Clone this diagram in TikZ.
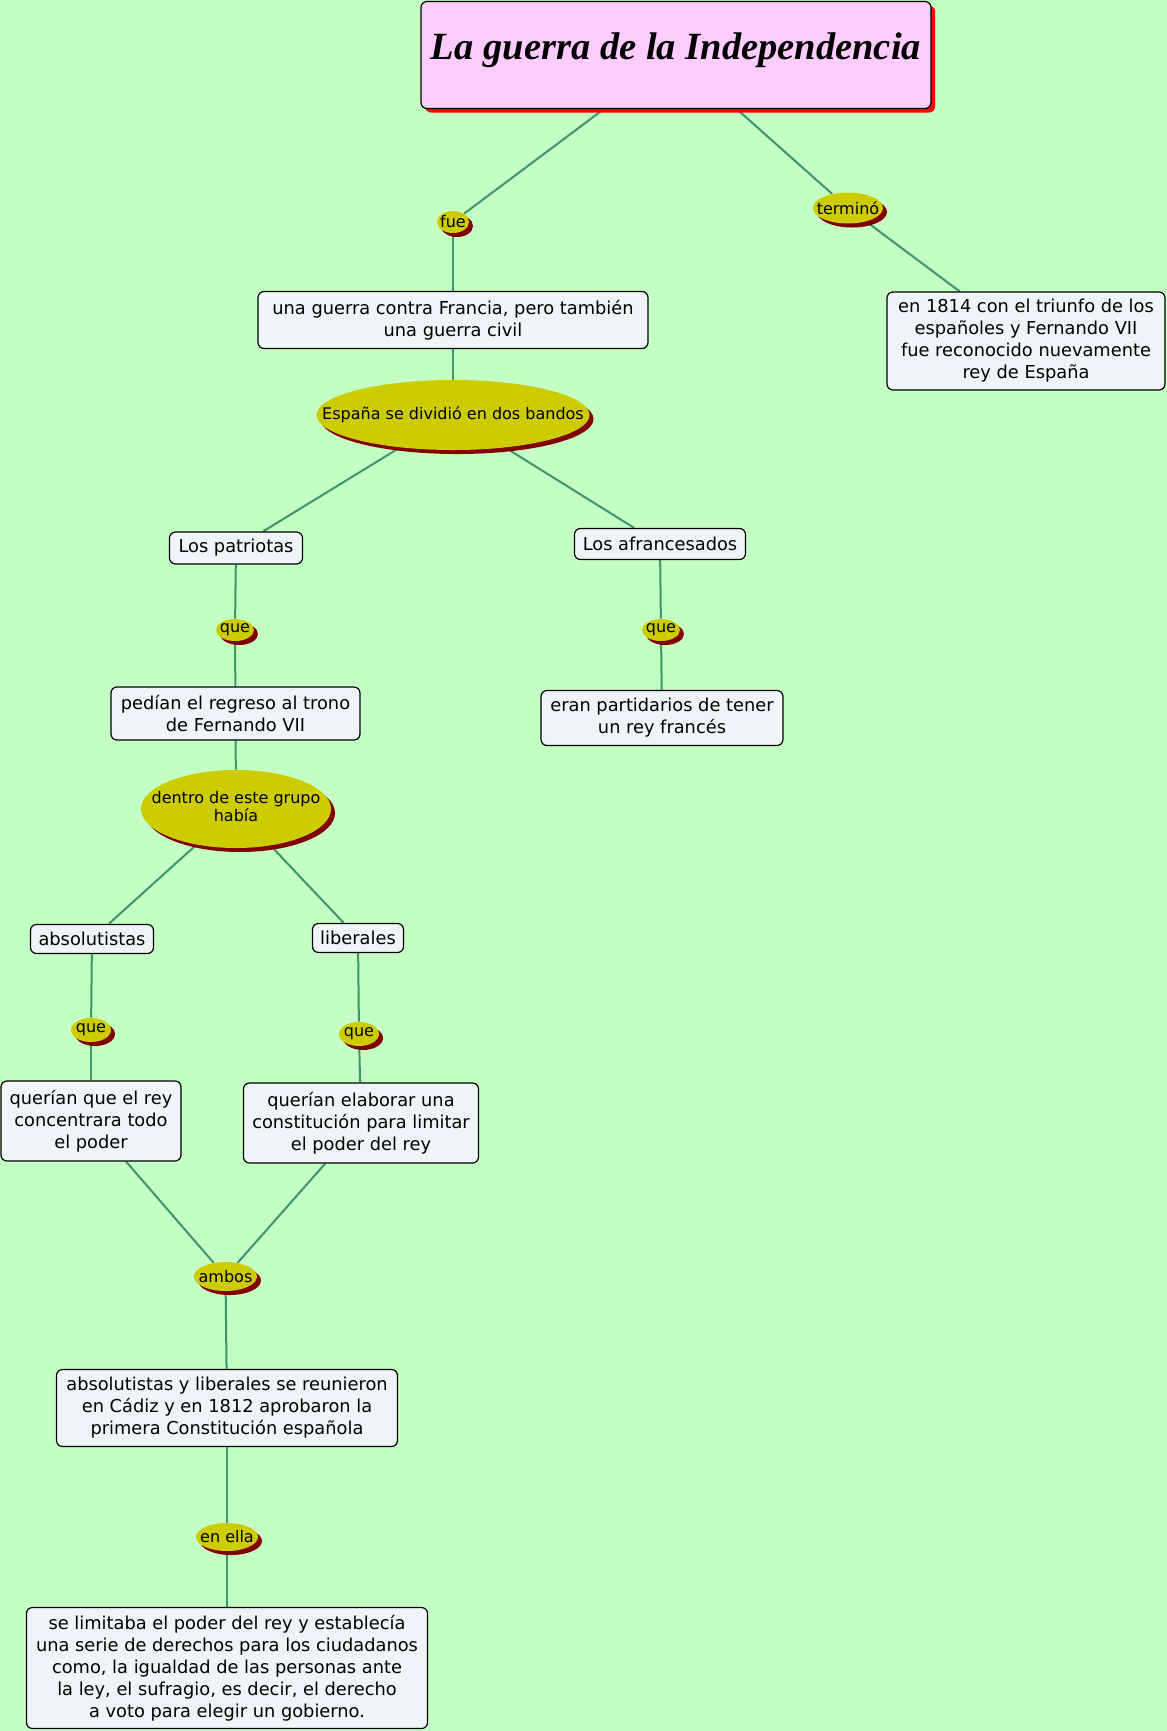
\documentclass[tikz,border=0pt]{standalone}
\usepackage{fontspec}
\setmainfont{DejaVu Sans}
\newfontfamily\titlefont{Liberation Serif}
\usetikzlibrary{shapes.geometric,shadows}
\definecolor{bgc}{RGB}{196,255,196}
\definecolor{boxfill}{RGB}{239,245,246}
\definecolor{linkfill}{RGB}{204,204,0}
\definecolor{linkshadow}{RGB}{128,0,0}
\definecolor{titlefill}{RGB}{255,204,255}
\definecolor{titleshadow}{RGB}{255,0,0}
\definecolor{connc}{RGB}{60,150,105}
\newcommand\zw[1]{\makebox[0pt]{#1}}
\pgfdeclarelayer{bglayer}
\pgfdeclarelayer{linelayer}
\pgfsetlayers{bglayer,linelayer,main}
\begin{document}
\begin{tikzpicture}[x=0.5pt,y=-0.5pt,
 sz/.style 2 args={minimum width=#1*0.5pt, minimum height=#2*0.5pt},
 concept/.style={draw=black, line width=0.6pt, fill=boxfill, rounded corners=3pt, align=center, inner sep=0pt, font=\fontsize{8.9pt}{11pt}\selectfont},
 linkp/.style={ellipse, fill=linkfill, inner sep=0pt, font=\fontsize{8pt}{9.5pt}\selectfont, general shadow={fill=linkshadow, shadow xshift=2pt, shadow yshift=-2pt}},
 connector/.style={draw=connc, line width=1pt}
]
\begin{pgfonlayer}{bglayer}
\fill[bgc] (0,0) rectangle (1167,1731);
\end{pgfonlayer}
\useasboundingbox (0,0) rectangle (1167,1731);

% title
\node[draw=black, line width=0.6pt, fill=titlefill, rounded corners=3pt, sz={510}{107},
  general shadow={fill=titleshadow, shadow xshift=2pt, shadow yshift=-2pt}] (title) at (676,55) {};
\node[inner sep=0pt] (titletext) at (676,50) {\resizebox{245pt}{!}{\titlefont\itshape\bfseries La guerra de la Independencia}};

% nodes
\node[linkp, sz={32}{22}] (fue) at (453,222) {\zw{fue}};
\node[linkp, sz={70}{31}] (termino) at (848,208) {\zw{terminó}};
\node[concept, sz={278}{98}] (c1814) at (1026,341) {en 1814 con el triunfo de los\\españoles y Fernando VII\\fue reconocido nuevamente\\rey de España};
\node[concept, sz={390}{57}] (guerra) at (453,320) {una guerra contra Francia, pero también\\una guerra civil};
\node[linkp, sz={273}{70}] (espana) at (453,415) {\zw{España se dividió en dos bandos}};
\node[concept, sz={133}{32}] (patriotas) at (236,548) {Los patriotas};
\node[concept, sz={171}{31}] (afran) at (660,544) {Los afrancesados};
\node[linkp, sz={38}{22}] (que1) at (235,630) {\zw{que}};
\node[linkp, sz={38}{22}] (que2) at (661,630) {\zw{que}};
\node[concept, sz={249}{53}] (pedian) at (235.5,713.5) {pedían el regreso al trono\\de Fernando VII};
\node[concept, sz={242}{55}] (eran) at (662,718) {eran partidarios de tener\\un rey francés};
\node[linkp, sz={190}{78}] (dentro) at (236,809) {\zw{\begin{tabular}{@{}c@{}}dentro de este grupo\\[-0.6pt]había\end{tabular}}};
\node[concept, sz={123}{29}] (absol) at (92,939) {absolutistas};
\node[concept, sz={91}{29}] (liber) at (358,938) {liberales};
\node[linkp, sz={40}{24}] (que3) at (91,1030) {\zw{que}};
\node[linkp, sz={40}{24}] (que4) at (359,1034) {\zw{que}};
\node[concept, sz={180}{80}] (quer1) at (91,1121) {querían que el rey\\concentrara todo\\el poder};
\node[concept, sz={235}{80}] (quer2) at (361,1123) {querían elaborar una\\constitución para limitar\\el poder del rey};
\node[linkp, sz={63}{29}] (ambos) at (225.5,1276.5) {\zw{ambos}};
\node[concept, sz={341}{77}] (cadiz) at (227,1408) {absolutistas y liberales se reunieron\\en Cádiz y en 1812 aprobaron la\\primera Constitución española};
\node[linkp, sz={62}{28}] (enella) at (227,1537) {\zw{en ella}};
\node[concept, sz={401}{121}] (ultimo) at (227,1668) {se limitaba el poder del rey y establecía\\una serie de derechos para los ciudadanos\\como, la igualdad de las personas ante\\la ley, el sufragio, es decir, el derecho\\a voto para elegir un gobierno.};

% connectors
\begin{pgfonlayer}{linelayer}
\draw[connector] (title) -- (fue);
\draw[connector] (fue) -- (guerra);
\draw[connector] (title) -- (termino);
\draw[connector] (termino) -- (c1814);
\draw[connector] (guerra) -- (espana);
\draw[connector] (espana) -- (patriotas);
\draw[connector] (espana) -- (afran);
\draw[connector] (patriotas) -- (que1);
\draw[connector] (que1) -- (pedian);
\draw[connector] (afran) -- (que2);
\draw[connector] (que2) -- (eran);
\draw[connector] (pedian) -- (dentro);
\draw[connector] (dentro) -- (absol);
\draw[connector] (dentro) -- (liber);
\draw[connector] (absol) -- (que3);
\draw[connector] (que3) -- (quer1);
\draw[connector] (liber) -- (que4);
\draw[connector] (que4) -- (quer2);
\draw[connector] (quer1) -- (ambos);
\draw[connector] (quer2) -- (ambos);
\draw[connector] (ambos) -- (cadiz);
\draw[connector] (cadiz) -- (enella);
\draw[connector] (enella) -- (ultimo);
\end{pgfonlayer}
\end{tikzpicture}
\end{document}
